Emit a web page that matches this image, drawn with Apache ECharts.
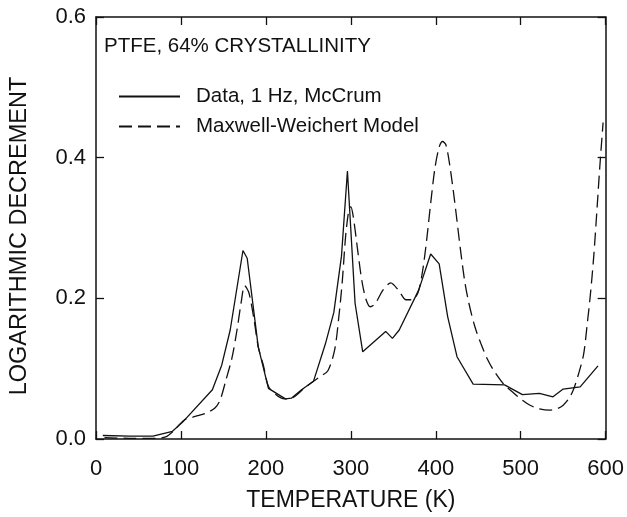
<!DOCTYPE html>
<html>
<head>
<meta charset="utf-8">
<script src="https://cdn.jsdelivr.net/npm/echarts@6/dist/echarts.min.js"></script>
<style>
  html, body { margin: 0; padding: 0; background: #fff; }
  #chart { width: 627px; height: 517px; }
</style>
</head>
<body>
<div id="chart"></div>
<script>
// Measured damping of PTFE (1 Hz torsion pendulum, McCrum)
const dataTemps = [8, 40, 67, 90, 102, 137, 148, 158, 173, 178, 191, 203, 223, 230, 242, 256, 270, 280, 289, 296, 305, 314, 341, 349, 357, 380, 394, 404, 414, 425, 444, 481, 502, 522, 538, 550, 570, 591];
const dataDecrement = [0.005, 0.004, 0.004, 0.011, 0.024, 0.070, 0.105, 0.155, 0.268, 0.257, 0.131, 0.072, 0.057, 0.058, 0.070, 0.082, 0.135, 0.180, 0.260, 0.381, 0.193, 0.124, 0.153, 0.143, 0.155, 0.212, 0.263, 0.249, 0.174, 0.117, 0.078, 0.077, 0.063, 0.065, 0.060, 0.071, 0.074, 0.104];

// Maxwell-Weichert model prediction
const modelTemps = [10, 40, 70, 82, 90, 104, 117, 130, 140, 146, 153, 160, 166, 171, 175, 180, 186, 191, 197, 203, 212, 222, 232, 245, 256, 264, 273, 281, 286, 290, 294, 298, 300, 303, 308, 313, 318, 323, 329, 338, 347, 357, 365, 372, 379, 384, 389, 394, 399, 404, 408, 412, 417, 422, 429, 434, 439, 446, 453, 461, 468, 480, 492, 502, 511, 522, 534, 543, 550, 557, 562, 568, 574, 578, 582, 586, 590, 593, 597];
const modelDecrement = [0.002, 0.001, 0.001, 0.003, 0.010, 0.027, 0.032, 0.037, 0.044, 0.055, 0.084, 0.115, 0.155, 0.195, 0.218, 0.208, 0.170, 0.131, 0.105, 0.075, 0.063, 0.057, 0.059, 0.072, 0.082, 0.089, 0.097, 0.127, 0.175, 0.225, 0.290, 0.328, 0.330, 0.315, 0.269, 0.225, 0.198, 0.188, 0.193, 0.212, 0.222, 0.210, 0.198, 0.198, 0.208, 0.235, 0.280, 0.335, 0.385, 0.415, 0.423, 0.418, 0.385, 0.340, 0.270, 0.225, 0.193, 0.160, 0.136, 0.113, 0.098, 0.078, 0.065, 0.055, 0.048, 0.043, 0.041, 0.043, 0.048, 0.058, 0.070, 0.092, 0.120, 0.160, 0.205, 0.260, 0.330, 0.385, 0.450];

const xTicks = [0, 100, 200, 300, 400, 500, 600];
const yTicks = [0.0, 0.2, 0.4, 0.6];

const seriesNames = ['Data, 1 Hz, McCrum', 'Maxwell-Weichert Model'];
const panelTitle = 'PTFE, 64% CRYSTALLINITY';
const xTitle = 'TEMPERATURE (K)';
const yTitle = 'LOGARITHMIC DECREMENT';

const pairs = (xs, ys) => xs.map((x, i) => [x, ys[i]]);

const FONT = 'Liberation Sans, Arial, Helvetica, sans-serif';
const INK = '#111';
// Frame edges: every side of the box carries inward ticks, none sit on zero
const axisLine = () => ({ show: true, onZero: false, lineStyle: { color: INK, width: 1.5 } });
const tickIn = () => ({ show: true, inside: true, length: 8, lineStyle: { color: INK, width: 1.3 } });

const chart = echarts.init(document.getElementById('chart'), null, { renderer: 'canvas' });

chart.setOption({
  animation: false,
  backgroundColor: '#fff',
  textStyle: { fontFamily: FONT, color: INK },
  title: {
    text: panelTitle,
    left: 104,
    top: 36,
    padding: 0,
    textStyle: { fontFamily: FONT, fontSize: 20.5, fontWeight: 'normal', color: INK }
  },
  legend: {
    orient: 'vertical',
    left: 118,
    top: 86,
    padding: 0,
    itemWidth: 61,
    itemHeight: 14,
    itemGap: 9,
    data: seriesNames,
    itemStyle: { color: 'rgba(0,0,0,0)', borderColor: 'rgba(0,0,0,0)', borderWidth: 0 },
    textStyle: { fontFamily: FONT, fontSize: 20.5, color: INK, padding: [0, 0, 0, 11] }
  },
  grid: { left: 93, right: 21, top: 17, bottom: 78, containLabel: false },
  xAxis: [
    {
      type: 'value', position: 'bottom', min: 0, max: 600, interval: 100,
      name: xTitle, nameLocation: 'middle', nameGap: 50,
      nameTextStyle: { fontFamily: FONT, fontSize: 23, color: INK },
      axisLine: axisLine(), axisTick: tickIn(), splitLine: { show: false },
      axisLabel: { fontFamily: FONT, fontSize: 22, color: INK, margin: 19,
        formatter: v => String(v) }
    },
    {
      type: 'value', position: 'top', min: 0, max: 600, interval: 100,
      axisLine: axisLine(), axisTick: tickIn(), axisLabel: { show: false }, splitLine: { show: false }
    }
  ],
  yAxis: [
    {
      type: 'value', position: 'left', min: 0, max: 0.6, interval: 0.2,
      name: yTitle, nameLocation: 'middle', nameGap: 64, nameRotate: 90,
      nameTextStyle: { fontFamily: FONT, fontSize: 23.5, color: INK, padding: [0, 16, 0, 0] },
      axisLine: axisLine(), axisTick: tickIn(), splitLine: { show: false },
      axisLabel: { fontFamily: FONT, fontSize: 22, color: INK, margin: 10,
        formatter: v => v.toFixed(1) }
    },
    {
      type: 'value', position: 'right', min: 0, max: 0.6, interval: 0.2,
      axisLine: axisLine(), axisTick: tickIn(), axisLabel: { show: false }, splitLine: { show: false }
    }
  ],
  series: [
    {
      name: seriesNames[0],
      type: 'line',
      data: pairs(dataTemps, dataDecrement),
      symbol: 'none',
      smooth: false,
      lineStyle: { color: INK, width: 1.3, type: 'solid' },
      itemStyle: { color: INK }
    },
    {
      name: seriesNames[1],
      type: 'line',
      data: pairs(modelTemps, modelDecrement),
      symbol: 'none',
      smooth: 0.3,
      lineStyle: { color: INK, width: 1.3, type: [13, 6] },
      itemStyle: { color: INK }
    }
  ]
});
</script>
</body>
</html>
